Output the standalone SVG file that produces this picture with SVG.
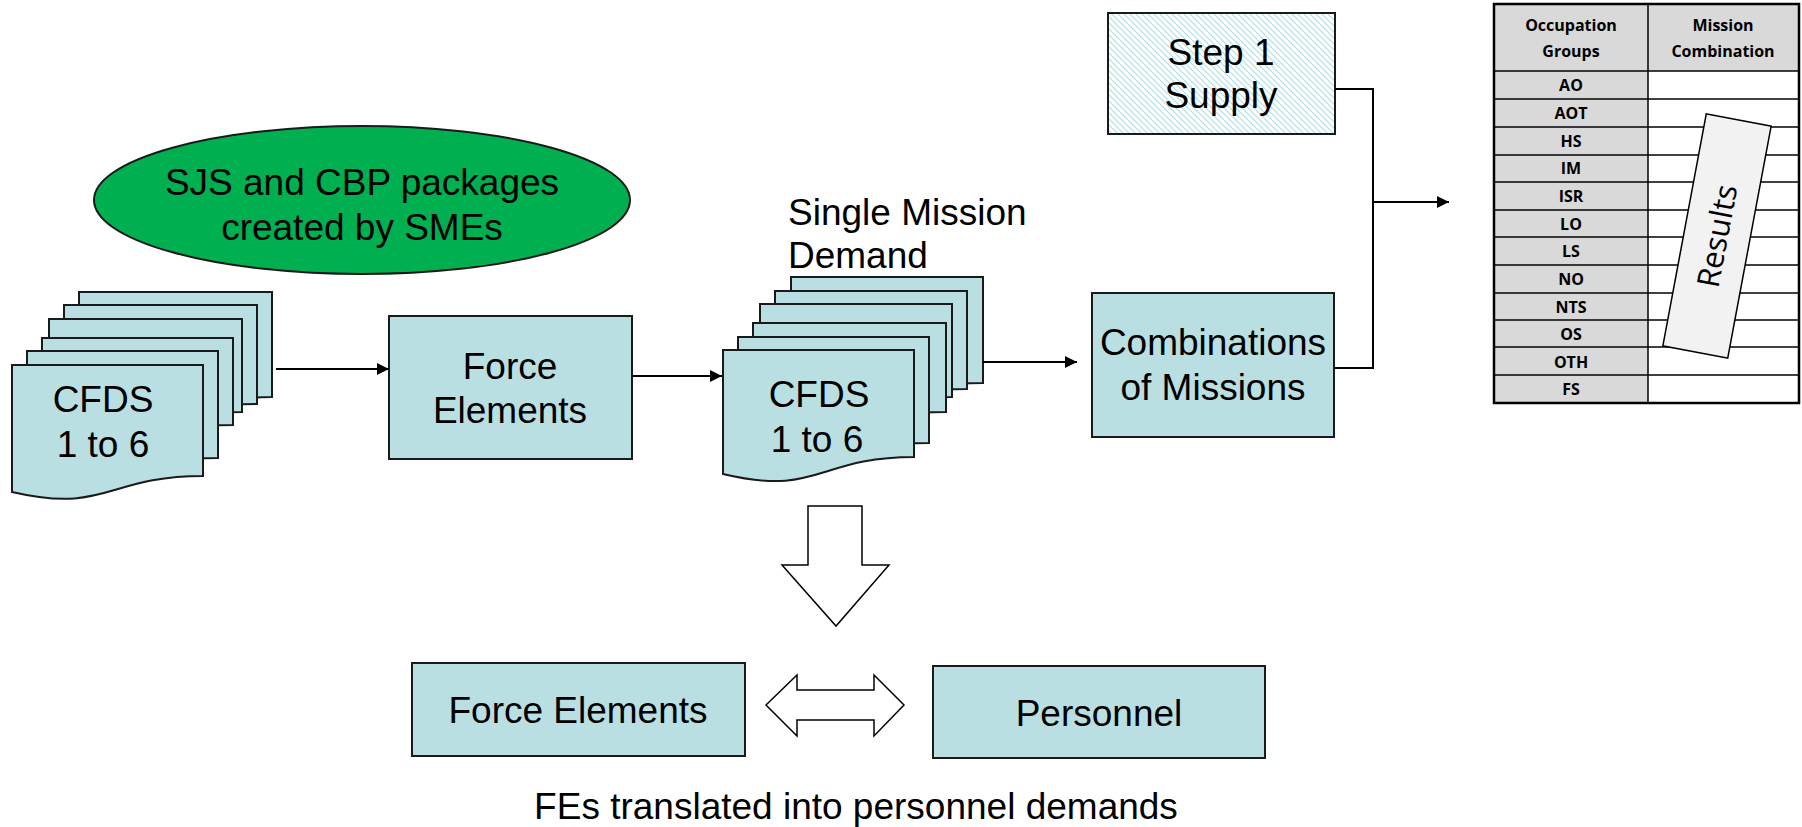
<svg xmlns="http://www.w3.org/2000/svg" width="1802" height="827" viewBox="0 0 1802 827">
<defs>
<pattern id="hatch" patternUnits="userSpaceOnUse" width="6" height="6">
<rect width="6" height="6" fill="#ffffff"/>
<path d="M-1,-1 L7,7 M-1,5 L1,7 M5,-1 L7,1" stroke="#b2dde3" stroke-width="1.1"/>
</pattern>
<marker id="ah" markerUnits="userSpaceOnUse" markerWidth="12" markerHeight="12" viewBox="0 0 12 12" refX="12" refY="6" orient="auto"><path d="M0,0 L12,6 L0,12 z" fill="#000"/></marker>
<style>
.box{fill:#b9dfe2;stroke:#1a1a1a;stroke-width:2}
.t{font-family:"Liberation Sans",Arial,sans-serif;font-size:37px;fill:#000;text-anchor:middle}
.conn{fill:none;stroke:#000;stroke-width:2}
.blk{fill:#fff;stroke:#000;stroke-width:1.5}
.tb{font-family:"Open Sans",sans-serif;font-weight:bold;font-size:16px;text-anchor:middle;fill:#000}
.gl{stroke:#000;stroke-width:1.5}
</style>
</defs>

<g id="sjs-ellipse">
<ellipse cx="362" cy="200" rx="268" ry="74" fill="#00b050" stroke="#1a1a1a" stroke-width="2"/>
<text class="t" x="362" y="195">SJS and CBP packages</text>
<text class="t" x="362" y="240">created by SMEs</text>
</g>

<g id="cfds-stack-1">
<path class="box" d="M79,292 H272 V397 C175,397 175,437 79,415 Z"/>
<path class="box" d="M64,305 H257 V404 C160,404 160,441 64,420 Z"/>
<path class="box" d="M49,319 H242 V412 C145,412 145,447 49,427 Z"/>
<path class="box" d="M42,338 H233 V425 C137,425 137,458 42,439 Z"/>
<path class="box" d="M27,351 H218 V458 C122,458 122,496 27,474 Z"/>
<path class="box" d="M12,365 H203 V476 C107,476 107,514 12,492 Z"/>
<text class="t" x="103" y="412">CFDS</text>
<text class="t" x="103" y="457">1 to 6</text>
</g>

<g id="force-elements-1">
<rect class="box" x="389" y="316" width="243" height="143"/>
<text class="t" x="510" y="379">Force</text>
<text class="t" x="510" y="423">Elements</text>
</g>

<g id="single-mission-label">
<text class="t" x="788" y="225" style="text-anchor:start">Single Mission</text>
<text class="t" x="788" y="268" style="text-anchor:start">Demand</text>
</g>

<g id="cfds-stack-2">
<path class="box" d="M791,277 H983 V383 C887,383 887,423 791,401 Z"/>
<path class="box" d="M775,291 H967 V389 C871,389 871,426 775,405 Z"/>
<path class="box" d="M760,304 H952 V397 C856,397 856,432 760,412 Z"/>
<path class="box" d="M753,323 H946 V412 C849,412 849,446 753,426 Z"/>
<path class="box" d="M738,337 H929 V443 C833,443 833,483 738,460 Z"/>
<path class="box" d="M723,350 H914 V457 C818,457 818,497 723,474 Z"/>
<text class="t" x="819" y="407">CFDS</text>
<text class="t" x="817" y="452">1 to 6</text>
</g>

<g id="combinations">
<rect class="box" x="1092" y="293" width="242" height="144"/>
<text class="t" x="1213" y="355">Combinations</text>
<text class="t" x="1213" y="400">of Missions</text>
</g>

<g id="step1-supply">
<rect x="1108" y="13" width="227" height="121" fill="url(#hatch)" stroke="#1a1a1a" stroke-width="2"/>
<text class="t" x="1221" y="65">Step 1</text>
<text class="t" x="1221" y="108">Supply</text>
</g>

<g id="results-table">
<rect x="1494" y="4" width="305" height="399" fill="#ffffff"/>
<rect x="1494" y="4" width="154" height="399" fill="#d9d9d9"/>
<rect x="1648" y="4" width="151" height="67" fill="#d9d9d9"/>
<g class="gl">
<line x1="1648" y1="4" x2="1648" y2="403"/>
<line x1="1494" y1="71" x2="1799" y2="71"/>
<line x1="1494" y1="99" x2="1799" y2="99"/>
<line x1="1494" y1="127" x2="1799" y2="127"/>
<line x1="1494" y1="155" x2="1799" y2="155"/>
<line x1="1494" y1="182" x2="1799" y2="182"/>
<line x1="1494" y1="210" x2="1799" y2="210"/>
<line x1="1494" y1="237" x2="1799" y2="237"/>
<line x1="1494" y1="265" x2="1799" y2="265"/>
<line x1="1494" y1="293" x2="1799" y2="293"/>
<line x1="1494" y1="320" x2="1799" y2="320"/>
<line x1="1494" y1="347" x2="1799" y2="347"/>
<line x1="1494" y1="375" x2="1799" y2="375"/>
</g>
<rect x="1494" y="4" width="305" height="399" fill="none" stroke="#000" stroke-width="2.5"/>
<text class="tb" x="1571" y="31">Occupation</text>
<text class="tb" x="1571" y="57">Groups</text>
<text class="tb" x="1723" y="31">Mission</text>
<text class="tb" x="1723" y="57">Combination</text>
<text class="tb" x="1571" y="91">AO</text>
<text class="tb" x="1571" y="119">AOT</text>
<text class="tb" x="1571" y="147">HS</text>
<text class="tb" x="1571" y="174">IM</text>
<text class="tb" x="1571" y="202">ISR</text>
<text class="tb" x="1571" y="230">LO</text>
<text class="tb" x="1571" y="257">LS</text>
<text class="tb" x="1571" y="285">NO</text>
<text class="tb" x="1571" y="313">NTS</text>
<text class="tb" x="1571" y="340">OS</text>
<text class="tb" x="1571" y="368">OTH</text>
<text class="tb" x="1571" y="395">FS</text>
<g transform="translate(1717,236) rotate(10.6)">
<rect x="-33" y="-118" width="66" height="236" fill="#f2f2f2" stroke="#000" stroke-width="1.5"/>
<text transform="rotate(-90)" x="0" y="11" style="font-family:'Open Sans',sans-serif;font-size:31px;text-anchor:middle">Results</text>
</g>
</g>

<g id="down-arrow">
<path class="blk" d="M808,506 H862 V565 H889 L836,626 L782,565 H808 Z"/>
</g>

<g id="force-elements-2">
<rect class="box" x="412" y="663" width="333" height="93"/>
<text class="t" x="578" y="723">Force Elements</text>
</g>

<g id="double-arrow">
<path class="blk" d="M766,705 L797,675 V690 H874 V675 L904,705 L874,736 V720 H797 V736 Z"/>
</g>

<g id="personnel">
<rect class="box" x="933" y="666" width="332" height="92"/>
<text class="t" x="1099" y="726">Personnel</text>
</g>

<g id="caption">
<text class="t" x="856" y="819">FEs translated into personnel demands</text>
</g>

<g id="connectors">
<line class="conn" x1="276" y1="369" x2="389" y2="369" marker-end="url(#ah)"/>
<line class="conn" x1="632" y1="376" x2="722" y2="376" marker-end="url(#ah)"/>
<line class="conn" x1="983" y1="362" x2="1077" y2="362" marker-end="url(#ah)"/>
<path class="conn" d="M1335,89 H1373 V368 H1334"/>
<line class="conn" x1="1373" y1="202" x2="1449" y2="202" marker-end="url(#ah)"/>
</g>
</svg>
